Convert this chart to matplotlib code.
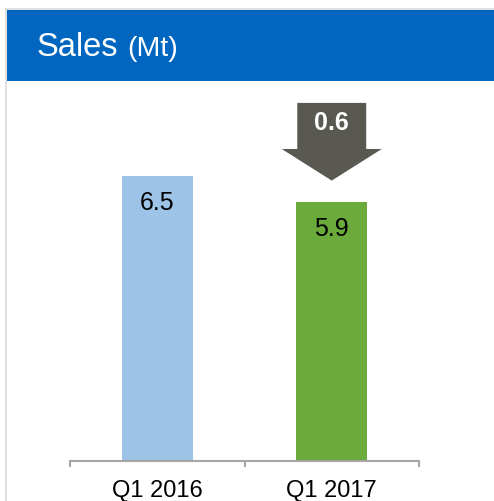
import matplotlib
matplotlib.use("Agg")
import matplotlib.pyplot as plt
from matplotlib.patches import Polygon, Rectangle
from matplotlib.lines import Line2D

plt.rcParams['font.family'] = ['Liberation Sans', 'DejaVu Sans']

# data
categories = ["Q1 2016", "Q1 2017"]
sales = [6.5, 5.9]
bar_colors = ["#9dc3e6", "#6aab3c"]
title_main = "Sales"
title_unit = "(Mt)"

W, H = 494, 501
fig = plt.figure(figsize=(W / 100, H / 100), dpi=100)

# panel frame + blue header
fig.add_artist(Line2D([6 / W, 6 / W], [0, 1 - 9 / H], color="#d9d9d9", lw=1.2))
fig.add_artist(Line2D([6 / W, 1], [1 - 9 / H, 1 - 9 / H], color="#d9d9d9", lw=1.2))
fig.add_artist(Rectangle((7 / W, 1 - 81 / H), 1 - 7 / W, 71 / H,
                         transform=fig.transFigure, color="#0066bf", lw=0))
fig.text(37 / W, 1 - 56 / H, title_main, color="white", fontsize=23.5, va="baseline", ha="left")
fig.text(127 / W, 1 - 56 / H, title_unit, color="white", fontsize=20.5, va="baseline", ha="left")

ax = fig.add_axes([70 / W, 40 / H, 349 / W, 373 / H])
x = list(range(len(categories)))
bars = ax.bar(x, sales, width=0.407, color=bar_colors)
ax.set_xlim(-0.5, len(categories) - 0.5)
ax.set_ylim(0, 8.5)

for s in ["top", "left", "right"]:
    ax.spines[s].set_visible(False)
ax.spines["bottom"].set_color("#a6a6a6")
ax.spines["bottom"].set_linewidth(1.5)
ax.set_yticks([])
ax.set_xticks(x)
ax.set_xticklabels(categories, fontsize=17)
ax.tick_params(axis="x", which="major", length=0, pad=13.5)
ax.set_xticks([i - 0.5 for i in range(len(categories) + 1)], minor=True)
ax.tick_params(axis="x", which="minor", length=4.5, width=1.5, color="#a6a6a6", direction="out")

for xi, v in zip(x, sales):
    ax.annotate(f"{v:.1f}", (xi, v), xytext=(0, -19.5), textcoords="offset points",
                ha="center", va="center", fontsize=18, color="black")

# down arrow showing the change
delta = sales[0] - sales[1]
cx, base = x[1], sales[1]
tip = base + 0.49
neck = base + 1.21
top = base + 2.26
sw, hw = 0.395 / 2, 0.573 / 2
arrow = Polygon([(cx - sw, top), (cx + sw, top), (cx + sw, neck), (cx + hw, neck),
                 (cx, tip), (cx - hw, neck), (cx - sw, neck)],
                closed=True, color="#595952", lw=0)
ax.add_patch(arrow)
ax.text(cx, base + 1.81, f"{delta:.1f}", ha="center", va="center",
        fontsize=18, fontweight="bold", color="white")

fig.savefig("out.png", dpi=100)
